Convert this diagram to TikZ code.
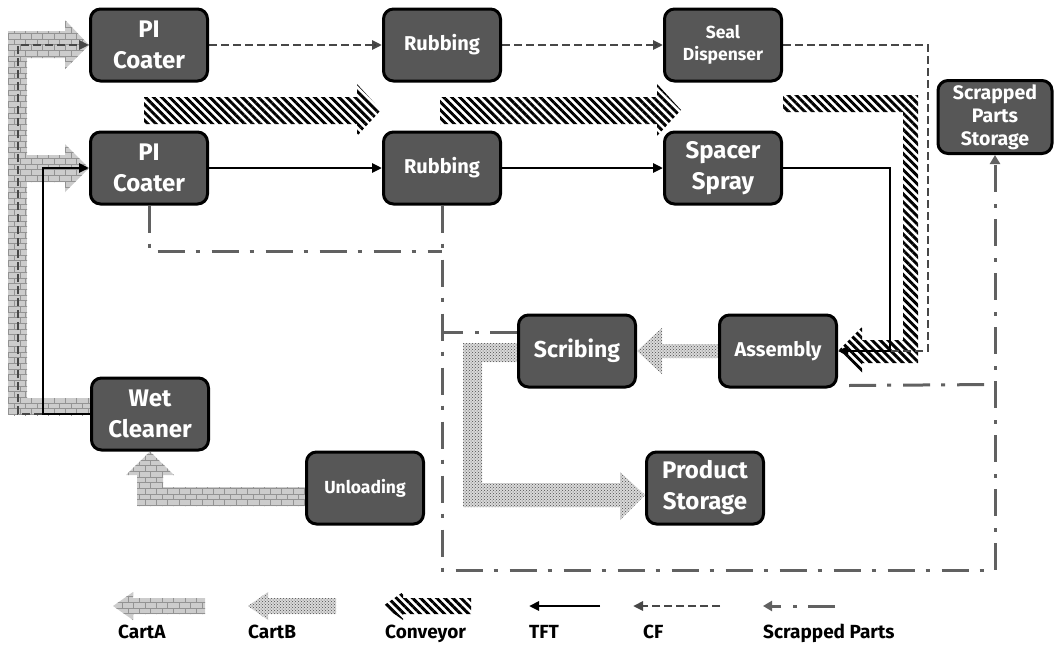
\documentclass[tikz,border=0pt]{standalone}
\usepackage{fontspec}
\setmainfont{Fira Sans}
\usetikzlibrary{arrows.meta,patterns,patterns.meta,calc}
\definecolor{boxgray}{RGB}{87,87,87}
\pgfdeclarelayer{background}
\pgfsetlayers{background,main}

\begin{document}
\begin{tikzpicture}[x=1pt, y=-1pt,
    main node/.style={draw=black, line width=3pt, rounded corners=10pt, fill=boxgray, text=white, align=center, minimum width=117pt, minimum height=72pt, inner sep=1pt},
    big text/.style={font=\bfseries\fontsize{24}{31}\selectfont},
    mid text/.style={font=\bfseries\fontsize{20}{24}\selectfont},
    small text/.style={font=\bfseries\fontsize{17.5}{22}\selectfont},
    legend text/.style={font=\bfseries\fontsize{19}{21}\selectfont, anchor=base west, inner sep=0pt},
    flow tip/.style={-{Triangle[length=10pt,width=9pt]}},
    tft line/.style={draw=black, line width=2.6pt},
    cf line/.style={draw=black!72, line width=2.8pt, dash pattern=on 8pt off 4pt},
    scrap line/.style={draw=black!62, line width=3pt, dash pattern=on 27pt off 11pt on 4pt off 12pt},
    cart a/.style={preaction={fill=gray!40}, pattern=bricks, pattern color=gray!85},
    cart b/.style={preaction={fill=gray!30}, pattern=crosshatch dots, pattern color=black!70},
    conveyor/.style={preaction={fill=white}, pattern={Lines[angle=-45,distance=5.7pt,line width=2.9pt]}, pattern color=black}]

  \useasboundingbox (0,0) rectangle (1054,645);

  % process boxes
  \node[main node, big text] (pi1) at (149,45) {PI\\Coater};
  \node[main node, mid text] (rub1) at (442,45) {Rubbing};
  \node[main node, small text] (seal) at (723,45) {Seal\\Dispenser};
  \node[main node, font=\bfseries\fontsize{19.5}{23}\selectfont, minimum width=114pt, minimum height=73pt] (store) at (995,117) {Scrapped\\Parts\\Storage};
  \node[main node, big text] (pi2) at (149,168) {PI\\Coater};
  \node[main node, mid text] (rub2) at (442,168) {Rubbing};
  \node[main node, big text] (spacer) at (723,168) {Spacer\\Spray};
  \node[main node, font=\bfseries\fontsize{23}{28}\selectfont] (scrib) at (577,351) {Scribing};
  \node[main node, mid text] (asm) at (778,351) {Assembly};
  \node[main node, big text] (wet) at (150,414) {Wet\\Cleaner};
  \node[main node, small text] (unload) at (365,488) {Unloading};
  \node[main node, big text] (prod) at (705,488) {Product\\Storage};

  \begin{pgfonlayer}{background}
    % scrapped parts
    \draw[scrap line] (pi2.south) |- (rub2.south |- 0,251);
    \draw[scrap line, -{Triangle[length=9pt,width=10pt]}] (rub2.south) -- (rub2.south |- 0,570) -| (store.south);
    \draw[scrap line] (scrib.west |- 0,332) -- (rub2.south |- 0,332);
    \draw[scrap line] ($(asm.south east)+(11,-3)$) -- (store.south |- 0,384.5);

    % cart A
    \fill[cart a] (8,31) rectangle (27,415);
    \fill[cart a] (8,398) rectangle (wet.west |- 0,415);
    \fill[cart a] (8,31) -- (65,31) -- (65,20) -- (pi1.west) -- (65,69) -- (65,58) -- (8,58) -- cycle;
    \fill[cart a] (27,155) -- (65,155) -- (65,144) -- (pi2.west) -- (65,192) -- (65,182) -- (27,182) -- cycle;
    \fill[cart a] (unload.west |- 0,487) -- (163,487) -- (163,475) -- (174,475) -- (wet.south) -- (126,475) -- (137,475) -- (137,506) -- (unload.west |- 0,506) -- cycle;

    % cart B
    \fill[cart b] (asm.west |- 0,344) -- (662,344) -- (662,328) -- (scrib.east) -- (662,374) -- (662,358) -- (asm.west |- 0,358) -- cycle;
    \fill[cart b] (scrib.west |- 0,343) -- (463,343) -- (463,507) -- (620,507) -- (620,520) -- ($(prod.west)+(0,7)$) -- (620,472) -- (620,483) -- (482,483) -- (482,362) -- (scrib.west |- 0,362) -- cycle;

    % conveyor
    \fill[conveyor] (144,97) -- (357,97) -- (357,84) -- (381,110) -- (357,136) -- (357,124) -- (144,124) -- cycle;
    \fill[conveyor] (440,97) -- (657,97) -- (657,84) -- (681,110) -- (657,136) -- (657,124) -- (440,124) -- cycle;
    \fill[conveyor] (783,95) -- (918,95) -- (918,363) -- (862,363) -- (862,375) -- (asm.east) -- (862,327) -- (862,340) -- (903,340) -- (903,112) -- (783,112) -- cycle;

    % CF
    \draw[cf line, flow tip] (wet.west) -- (18,414) |- (pi1.west);
    \path[cf line] (pi1) edge[flow tip] (rub1)
                   (rub1) edge[flow tip] (seal);
    \draw[cf line, flow tip] (seal.east) -| (928,351) -- (asm.east);

    % TFT
    \draw[tft line, flow tip] (wet.west) -- (43,414) |- (pi2.west);
    \path[tft line] (pi2) edge[flow tip] (rub2)
                    (rub2) edge[flow tip] (spacer);
    \draw[tft line, flow tip] (spacer.east) -| (890,351) -- (asm.east);
  \end{pgfonlayer}

  % legend
  \fill[cart a] (113,606) -- (133,592) -- (133,598) -- (205,598) -- (205,614) -- (133,614) -- (133,620) -- cycle;
  \fill[cart b] (248,606) -- (268,592) -- (268,598) -- (336,598) -- (336,614) -- (268,614) -- (268,620) -- cycle;
  \fill[conveyor] (383,606) -- (403,592) -- (403,598) -- (471,598) -- (471,614) -- (403,614) -- (403,620) -- cycle;
  \draw[tft line, flow tip] (600,606) -- (529,606);
  \draw[cf line, flow tip] (720,606) -- (633,606);
  \draw[scrap line, -{Triangle[length=9pt,width=10pt]}] (835,606) -- (763,606);
  \node[legend text] (key a) at (118,638) {CartA};
  \node[legend text] (key b) at (248,638) {CartB};
  \node[legend text] (key conv) at (385,638) {Conveyor};
  \node[legend text] (key tft) at (529,638) {TFT};
  \node[legend text] (key cf) at (643,638) {CF};
  \node[legend text] (key scrap) at (763,638) {Scrapped Parts};
\end{tikzpicture}
\end{document}
